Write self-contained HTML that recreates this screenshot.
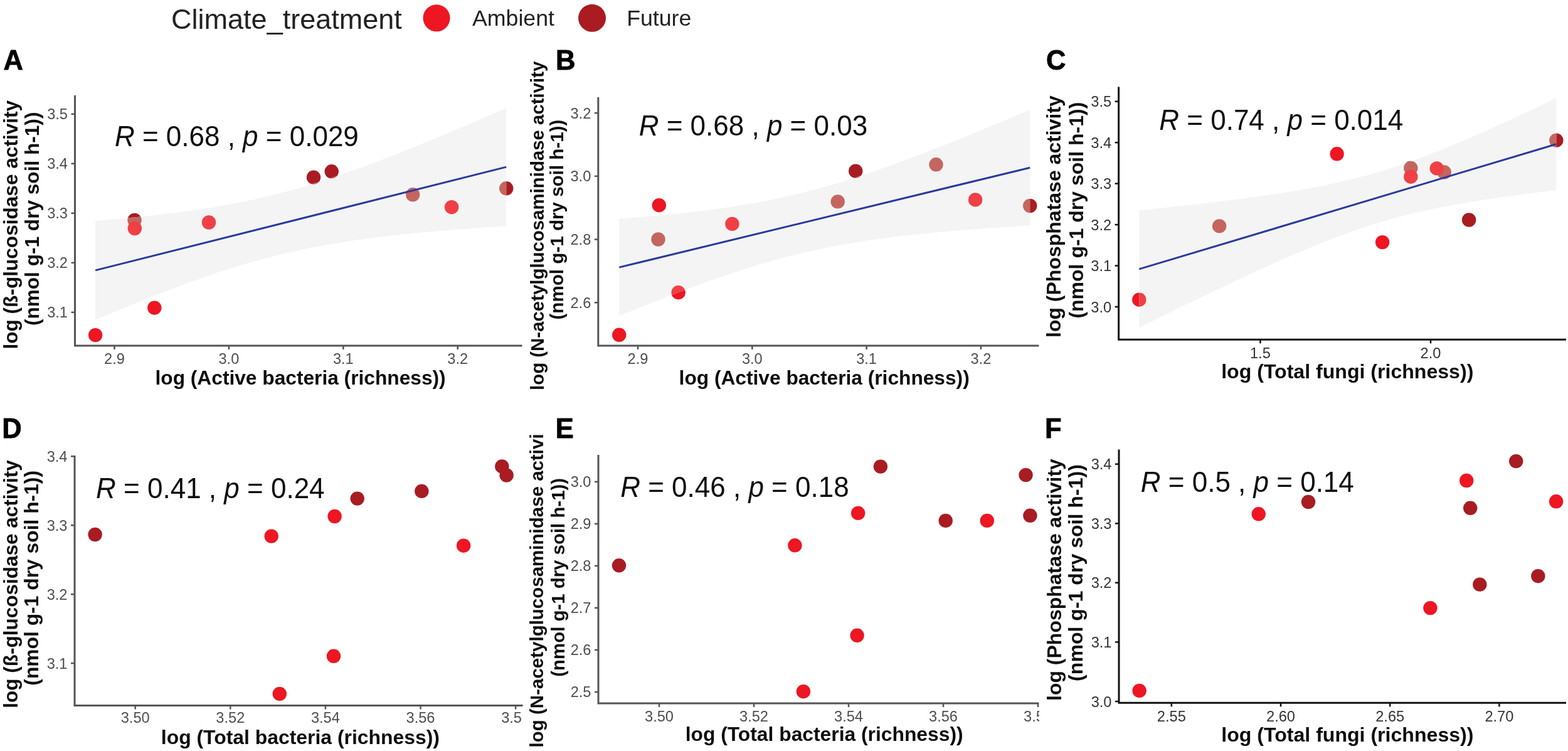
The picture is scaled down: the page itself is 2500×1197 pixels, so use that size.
<!DOCTYPE html><html><head><meta charset="utf-8"><title>Figure</title><style>html,body{margin:0;padding:0;background:#fff;}svg{display:block;filter:blur(0.5px);}text{font-family:"Liberation Sans",Arial,sans-serif;}.lab{font-weight:bold;font-size:43.5px;fill:#000;stroke:#000;stroke-width:0.8px;}.at{font-weight:bold;fill:#0d0d0d;}.tk{font-size:23.6px;}.rt{font-size:44px;fill:#0d0d0d;}.lg{fill:#222;}</style></head><body>
<svg width="2500" height="1197" viewBox="0 0 2500 1197">
<rect width="2500" height="1197" fill="#fff"/>
<text x="273.1" y="46.2" class="lg" style="font-size:45px">Climate_treatment</text>
<circle cx="696" cy="28.8" r="21.5" fill="#ed1622"/>
<text x="753.0" y="40.5" class="lg" style="font-size:35.7px">Ambient</text>
<circle cx="944" cy="28.8" r="22" fill="#a81c22"/>
<text x="999.2" y="40.5" class="lg" style="font-size:35.7px">Future</text>
<text x="5.4" y="110.5" class="lab">A</text>
<text transform="translate(28.0,556.6) rotate(-90)" class="at" style="font-size:31.6px">log (ß-glucosidase activity</text>
<text transform="translate(62.0,519.1) rotate(-90)" class="at" style="font-size:31.6px">(nmol g-1 dry soil h-1))</text>
<text x="247.5" y="613.4" class="at" style="font-size:31.7px">log (Active bacteria (richness))</text>
<defs><clipPath id="rb0"><path d="M152.1,351.9 L163.2,351.0 L174.3,350.1 L185.4,349.1 L196.5,348.1 L207.6,347.0 L218.7,345.9 L229.8,344.8 L240.9,343.6 L252.0,342.4 L263.1,341.1 L274.2,339.8 L285.3,338.4 L296.4,336.9 L307.5,335.3 L318.7,333.7 L329.8,332.0 L340.9,330.2 L352.0,328.3 L363.1,326.3 L374.2,324.3 L385.3,322.1 L396.4,319.8 L407.5,317.3 L418.6,314.8 L429.7,312.2 L440.8,309.4 L451.9,306.5 L463.0,303.5 L474.1,300.4 L485.2,297.1 L496.3,293.8 L507.4,290.3 L518.5,286.8 L529.6,283.1 L540.7,279.4 L551.8,275.5 L562.9,271.6 L574.0,267.6 L585.1,263.5 L596.2,259.4 L607.3,255.2 L618.4,250.9 L629.5,246.5 L640.6,242.2 L651.8,237.7 L662.9,233.2 L674.0,228.7 L685.1,224.2 L696.2,219.6 L707.3,214.9 L718.4,210.3 L729.5,205.6 L740.6,200.9 L751.7,196.1 L762.8,191.4 L773.9,186.6 L785.0,181.8 L796.1,176.9 L807.2,172.1 L807.2,360.2 L796.1,360.9 L785.0,361.7 L773.9,362.4 L762.8,363.2 L751.7,364.1 L740.6,364.9 L729.5,365.8 L718.4,366.7 L707.3,367.6 L696.2,368.5 L685.1,369.5 L674.0,370.5 L662.9,371.6 L651.8,372.7 L640.6,373.9 L629.5,375.1 L618.4,376.3 L607.3,377.6 L596.2,379.0 L585.1,380.4 L574.0,381.9 L562.9,383.5 L551.8,385.2 L540.7,386.9 L529.6,388.7 L518.5,390.7 L507.4,392.7 L496.3,394.8 L485.2,397.1 L474.1,399.4 L463.0,401.9 L451.9,404.4 L440.8,407.1 L429.7,410.0 L418.6,412.9 L407.5,415.9 L396.4,419.1 L385.3,422.4 L374.2,425.8 L363.1,429.3 L352.0,432.9 L340.9,436.6 L329.8,440.4 L318.7,444.3 L307.5,448.2 L296.4,452.2 L285.3,456.4 L274.2,460.5 L263.1,464.8 L252.0,469.1 L240.9,473.4 L229.8,477.8 L218.7,482.3 L207.6,486.8 L196.5,491.3 L185.4,495.9 L174.3,500.5 L163.2,505.1 L152.1,509.8 Z"/></clipPath></defs>
<circle cx="152.1" cy="534.1" r="11.2" fill="#ed1622"/>
<circle cx="214.5" cy="351" r="11.2" fill="#a81c22"/>
<circle cx="214.8" cy="364" r="11.2" fill="#ed1622"/>
<circle cx="246.3" cy="490.6" r="11.2" fill="#ed1622"/>
<circle cx="333" cy="354.5" r="11.2" fill="#ed1622"/>
<circle cx="500" cy="282.7" r="11.2" fill="#a81c22"/>
<circle cx="528.7" cy="273.3" r="11.2" fill="#a81c22"/>
<circle cx="658.2" cy="310.3" r="11.2" fill="#a81c22"/>
<circle cx="720.1" cy="330.2" r="11.2" fill="#ed1622"/>
<circle cx="807.2" cy="300.3" r="11.2" fill="#a81c22"/>
<path d="M152.1,351.9 L163.2,351.0 L174.3,350.1 L185.4,349.1 L196.5,348.1 L207.6,347.0 L218.7,345.9 L229.8,344.8 L240.9,343.6 L252.0,342.4 L263.1,341.1 L274.2,339.8 L285.3,338.4 L296.4,336.9 L307.5,335.3 L318.7,333.7 L329.8,332.0 L340.9,330.2 L352.0,328.3 L363.1,326.3 L374.2,324.3 L385.3,322.1 L396.4,319.8 L407.5,317.3 L418.6,314.8 L429.7,312.2 L440.8,309.4 L451.9,306.5 L463.0,303.5 L474.1,300.4 L485.2,297.1 L496.3,293.8 L507.4,290.3 L518.5,286.8 L529.6,283.1 L540.7,279.4 L551.8,275.5 L562.9,271.6 L574.0,267.6 L585.1,263.5 L596.2,259.4 L607.3,255.2 L618.4,250.9 L629.5,246.5 L640.6,242.2 L651.8,237.7 L662.9,233.2 L674.0,228.7 L685.1,224.2 L696.2,219.6 L707.3,214.9 L718.4,210.3 L729.5,205.6 L740.6,200.9 L751.7,196.1 L762.8,191.4 L773.9,186.6 L785.0,181.8 L796.1,176.9 L807.2,172.1 L807.2,360.2 L796.1,360.9 L785.0,361.7 L773.9,362.4 L762.8,363.2 L751.7,364.1 L740.6,364.9 L729.5,365.8 L718.4,366.7 L707.3,367.6 L696.2,368.5 L685.1,369.5 L674.0,370.5 L662.9,371.6 L651.8,372.7 L640.6,373.9 L629.5,375.1 L618.4,376.3 L607.3,377.6 L596.2,379.0 L585.1,380.4 L574.0,381.9 L562.9,383.5 L551.8,385.2 L540.7,386.9 L529.6,388.7 L518.5,390.7 L507.4,392.7 L496.3,394.8 L485.2,397.1 L474.1,399.4 L463.0,401.9 L451.9,404.4 L440.8,407.1 L429.7,410.0 L418.6,412.9 L407.5,415.9 L396.4,419.1 L385.3,422.4 L374.2,425.8 L363.1,429.3 L352.0,432.9 L340.9,436.6 L329.8,440.4 L318.7,444.3 L307.5,448.2 L296.4,452.2 L285.3,456.4 L274.2,460.5 L263.1,464.8 L252.0,469.1 L240.9,473.4 L229.8,477.8 L218.7,482.3 L207.6,486.8 L196.5,491.3 L185.4,495.9 L174.3,500.5 L163.2,505.1 L152.1,509.8 Z" fill="#f4f4f4"/>
<g clip-path="url(#rb0)">
<circle cx="152.1" cy="534.1" r="11.2" fill="#ef4046"/>
<circle cx="214.5" cy="351" r="11.2" fill="#c4665f"/>
<circle cx="214.8" cy="364" r="11.2" fill="#ef4046"/>
<circle cx="246.3" cy="490.6" r="11.2" fill="#ef4046"/>
<circle cx="333" cy="354.5" r="11.2" fill="#ef4046"/>
<circle cx="500" cy="282.7" r="11.2" fill="#c4665f"/>
<circle cx="528.7" cy="273.3" r="11.2" fill="#c4665f"/>
<circle cx="658.2" cy="310.3" r="11.2" fill="#c4665f"/>
<circle cx="720.1" cy="330.2" r="11.2" fill="#ef4046"/>
<circle cx="807.2" cy="300.3" r="11.2" fill="#c4665f"/>
</g>
<line x1="152.1" y1="430.9" x2="807.2" y2="266.1" stroke="#2a3a9e" stroke-width="3"/>
<text transform="translate(182.9,233) scale(1,1.05)" class="rt"><tspan font-style="italic">R</tspan> = 0.68 , <tspan font-style="italic">p</tspan> = 0.029</text>
<path d="M119.5,152 V551 H832.5" fill="none" stroke="#555" stroke-width="3"/>
<line x1="113.5" y1="497.8" x2="119.5" y2="497.8" stroke="#555" stroke-width="2.5"/>
<text x="108.0" y="506.3" text-anchor="end" class="tk" fill="#4d4d4d">3.1</text>
<line x1="113.5" y1="418.8" x2="119.5" y2="418.8" stroke="#555" stroke-width="2.5"/>
<text x="108.0" y="427.3" text-anchor="end" class="tk" fill="#4d4d4d">3.2</text>
<line x1="113.5" y1="339.8" x2="119.5" y2="339.8" stroke="#555" stroke-width="2.5"/>
<text x="108.0" y="348.3" text-anchor="end" class="tk" fill="#4d4d4d">3.3</text>
<line x1="113.5" y1="260.8" x2="119.5" y2="260.8" stroke="#555" stroke-width="2.5"/>
<text x="108.0" y="269.3" text-anchor="end" class="tk" fill="#4d4d4d">3.4</text>
<line x1="113.5" y1="181.8" x2="119.5" y2="181.8" stroke="#555" stroke-width="2.5"/>
<text x="108.0" y="190.3" text-anchor="end" class="tk" fill="#4d4d4d">3.5</text>
<line x1="182.5" y1="551" x2="182.5" y2="557" stroke="#555" stroke-width="2.5"/>
<text x="182.5" y="580.3" text-anchor="middle" class="tk" fill="#4d4d4d">2.9</text>
<line x1="364.9" y1="551" x2="364.9" y2="557" stroke="#555" stroke-width="2.5"/>
<text x="364.9" y="580.3" text-anchor="middle" class="tk" fill="#4d4d4d">3.0</text>
<line x1="547.3" y1="551" x2="547.3" y2="557" stroke="#555" stroke-width="2.5"/>
<text x="547.3" y="580.3" text-anchor="middle" class="tk" fill="#4d4d4d">3.1</text>
<line x1="729.7" y1="551" x2="729.7" y2="557" stroke="#555" stroke-width="2.5"/>
<text x="729.7" y="580.3" text-anchor="middle" class="tk" fill="#4d4d4d">3.2</text>
<text x="886.0" y="110.5" class="lab">B</text>
<text transform="translate(867.0,621.9) rotate(-90)" class="at" style="font-size:29.4px">log (N-acetylglucosaminidase activity</text>
<text transform="translate(897.5,509.5) rotate(-90)" class="at" style="font-size:29.6px">(nmol g-1 dry soil h-1))</text>
<text x="1082.6" y="612.8" class="at" style="font-size:31.7px">log (Active bacteria (richness))</text>
<defs><clipPath id="rb1"><path d="M987.2,348.6 L998.3,347.7 L1009.4,346.9 L1020.5,346.0 L1031.6,345.0 L1042.7,344.0 L1053.8,343.0 L1064.9,341.9 L1076.0,340.8 L1087.1,339.7 L1098.2,338.5 L1109.3,337.2 L1120.4,335.9 L1131.5,334.5 L1142.6,333.0 L1153.7,331.4 L1164.8,329.8 L1175.9,328.1 L1187.0,326.3 L1198.1,324.4 L1209.2,322.4 L1220.3,320.3 L1231.4,318.1 L1242.5,315.8 L1253.6,313.3 L1264.7,310.8 L1275.8,308.1 L1286.9,305.3 L1298.0,302.4 L1309.1,299.4 L1320.3,296.3 L1331.4,293.0 L1342.5,289.7 L1353.6,286.2 L1364.7,282.7 L1375.8,279.0 L1386.9,275.3 L1398.0,271.5 L1409.1,267.6 L1420.2,263.7 L1431.3,259.6 L1442.4,255.5 L1453.5,251.4 L1464.6,247.2 L1475.7,242.9 L1486.8,238.6 L1497.9,234.3 L1509.0,229.9 L1520.1,225.5 L1531.2,221.0 L1542.3,216.5 L1553.4,212.0 L1564.5,207.4 L1575.6,202.8 L1586.7,198.2 L1597.8,193.6 L1608.9,188.9 L1620.0,184.3 L1631.1,179.6 L1642.2,174.9 L1642.2,359.4 L1631.1,360.1 L1620.0,360.8 L1608.9,361.5 L1597.8,362.3 L1586.7,363.0 L1575.6,363.8 L1564.5,364.6 L1553.4,365.4 L1542.3,366.3 L1531.2,367.2 L1520.1,368.1 L1509.0,369.1 L1497.9,370.1 L1486.8,371.1 L1475.7,372.2 L1464.6,373.3 L1453.5,374.5 L1442.4,375.7 L1431.3,377.0 L1420.2,378.4 L1409.1,379.8 L1398.0,381.3 L1386.9,382.9 L1375.8,384.6 L1364.7,386.3 L1353.6,388.2 L1342.5,390.1 L1331.4,392.2 L1320.3,394.3 L1309.1,396.6 L1298.0,398.9 L1286.9,401.4 L1275.8,404.0 L1264.7,406.7 L1253.6,409.6 L1242.5,412.5 L1231.4,415.6 L1220.3,418.8 L1209.2,422.0 L1198.1,425.4 L1187.0,428.9 L1175.9,432.5 L1164.8,436.2 L1153.7,439.9 L1142.6,443.8 L1131.5,447.7 L1120.4,451.7 L1109.3,455.7 L1098.2,459.9 L1087.1,464.0 L1076.0,468.3 L1064.9,472.5 L1053.8,476.9 L1042.7,481.2 L1031.6,485.6 L1020.5,490.1 L1009.4,494.6 L998.3,499.1 L987.2,503.6 Z"/></clipPath></defs>
<circle cx="987.2" cy="533.8" r="11.2" fill="#ed1622"/>
<circle cx="1050.8" cy="327.2" r="11.2" fill="#ed1622"/>
<circle cx="1049.5" cy="381.5" r="11.2" fill="#a81c22"/>
<circle cx="1081.6" cy="466.2" r="11.2" fill="#ed1622"/>
<circle cx="1167.4" cy="356.9" r="11.2" fill="#ed1622"/>
<circle cx="1335.7" cy="321.4" r="11.2" fill="#a81c22"/>
<circle cx="1364.2" cy="272.7" r="11.2" fill="#a81c22"/>
<circle cx="1492.5" cy="262.3" r="11.2" fill="#a81c22"/>
<circle cx="1555.1" cy="318.4" r="11.2" fill="#ed1622"/>
<circle cx="1642.2" cy="328" r="11.2" fill="#a81c22"/>
<path d="M987.2,348.6 L998.3,347.7 L1009.4,346.9 L1020.5,346.0 L1031.6,345.0 L1042.7,344.0 L1053.8,343.0 L1064.9,341.9 L1076.0,340.8 L1087.1,339.7 L1098.2,338.5 L1109.3,337.2 L1120.4,335.9 L1131.5,334.5 L1142.6,333.0 L1153.7,331.4 L1164.8,329.8 L1175.9,328.1 L1187.0,326.3 L1198.1,324.4 L1209.2,322.4 L1220.3,320.3 L1231.4,318.1 L1242.5,315.8 L1253.6,313.3 L1264.7,310.8 L1275.8,308.1 L1286.9,305.3 L1298.0,302.4 L1309.1,299.4 L1320.3,296.3 L1331.4,293.0 L1342.5,289.7 L1353.6,286.2 L1364.7,282.7 L1375.8,279.0 L1386.9,275.3 L1398.0,271.5 L1409.1,267.6 L1420.2,263.7 L1431.3,259.6 L1442.4,255.5 L1453.5,251.4 L1464.6,247.2 L1475.7,242.9 L1486.8,238.6 L1497.9,234.3 L1509.0,229.9 L1520.1,225.5 L1531.2,221.0 L1542.3,216.5 L1553.4,212.0 L1564.5,207.4 L1575.6,202.8 L1586.7,198.2 L1597.8,193.6 L1608.9,188.9 L1620.0,184.3 L1631.1,179.6 L1642.2,174.9 L1642.2,359.4 L1631.1,360.1 L1620.0,360.8 L1608.9,361.5 L1597.8,362.3 L1586.7,363.0 L1575.6,363.8 L1564.5,364.6 L1553.4,365.4 L1542.3,366.3 L1531.2,367.2 L1520.1,368.1 L1509.0,369.1 L1497.9,370.1 L1486.8,371.1 L1475.7,372.2 L1464.6,373.3 L1453.5,374.5 L1442.4,375.7 L1431.3,377.0 L1420.2,378.4 L1409.1,379.8 L1398.0,381.3 L1386.9,382.9 L1375.8,384.6 L1364.7,386.3 L1353.6,388.2 L1342.5,390.1 L1331.4,392.2 L1320.3,394.3 L1309.1,396.6 L1298.0,398.9 L1286.9,401.4 L1275.8,404.0 L1264.7,406.7 L1253.6,409.6 L1242.5,412.5 L1231.4,415.6 L1220.3,418.8 L1209.2,422.0 L1198.1,425.4 L1187.0,428.9 L1175.9,432.5 L1164.8,436.2 L1153.7,439.9 L1142.6,443.8 L1131.5,447.7 L1120.4,451.7 L1109.3,455.7 L1098.2,459.9 L1087.1,464.0 L1076.0,468.3 L1064.9,472.5 L1053.8,476.9 L1042.7,481.2 L1031.6,485.6 L1020.5,490.1 L1009.4,494.6 L998.3,499.1 L987.2,503.6 Z" fill="#f4f4f4"/>
<g clip-path="url(#rb1)">
<circle cx="987.2" cy="533.8" r="11.2" fill="#ef4046"/>
<circle cx="1050.8" cy="327.2" r="11.2" fill="#ef4046"/>
<circle cx="1049.5" cy="381.5" r="11.2" fill="#c4665f"/>
<circle cx="1081.6" cy="466.2" r="11.2" fill="#ef4046"/>
<circle cx="1167.4" cy="356.9" r="11.2" fill="#ef4046"/>
<circle cx="1335.7" cy="321.4" r="11.2" fill="#c4665f"/>
<circle cx="1364.2" cy="272.7" r="11.2" fill="#c4665f"/>
<circle cx="1492.5" cy="262.3" r="11.2" fill="#c4665f"/>
<circle cx="1555.1" cy="318.4" r="11.2" fill="#ef4046"/>
<circle cx="1642.2" cy="328" r="11.2" fill="#c4665f"/>
</g>
<line x1="987.2" y1="426.1" x2="1642.2" y2="267.2" stroke="#2a3a9e" stroke-width="3"/>
<text transform="translate(1018.7,216.3) scale(1,1.05)" class="rt"><tspan font-style="italic">R</tspan> = 0.68 , <tspan font-style="italic">p</tspan> = 0.03</text>
<path d="M953.8,155 V551 H1656.4" fill="none" stroke="#555" stroke-width="3"/>
<line x1="947.8" y1="482.3" x2="953.8" y2="482.3" stroke="#555" stroke-width="2.5"/>
<text x="942.3" y="490.8" text-anchor="end" class="tk" fill="#4d4d4d">2.6</text>
<line x1="947.8" y1="381.6" x2="953.8" y2="381.6" stroke="#555" stroke-width="2.5"/>
<text x="942.3" y="390.1" text-anchor="end" class="tk" fill="#4d4d4d">2.8</text>
<line x1="947.8" y1="280.8" x2="953.8" y2="280.8" stroke="#555" stroke-width="2.5"/>
<text x="942.3" y="289.3" text-anchor="end" class="tk" fill="#4d4d4d">3.0</text>
<line x1="947.8" y1="180.1" x2="953.8" y2="180.1" stroke="#555" stroke-width="2.5"/>
<text x="942.3" y="188.6" text-anchor="end" class="tk" fill="#4d4d4d">3.2</text>
<line x1="1017.0" y1="551" x2="1017.0" y2="557" stroke="#555" stroke-width="2.5"/>
<text x="1017.0" y="580.3" text-anchor="middle" class="tk" fill="#4d4d4d">2.9</text>
<line x1="1199.3" y1="551" x2="1199.3" y2="557" stroke="#555" stroke-width="2.5"/>
<text x="1199.3" y="580.3" text-anchor="middle" class="tk" fill="#4d4d4d">3.0</text>
<line x1="1381.6" y1="551" x2="1381.6" y2="557" stroke="#555" stroke-width="2.5"/>
<text x="1381.6" y="580.3" text-anchor="middle" class="tk" fill="#4d4d4d">3.1</text>
<line x1="1563.9" y1="551" x2="1563.9" y2="557" stroke="#555" stroke-width="2.5"/>
<text x="1563.9" y="580.3" text-anchor="middle" class="tk" fill="#4d4d4d">3.2</text>
<text x="1667.9" y="110.5" class="lab">C</text>
<text transform="translate(1691.3,538.0) rotate(-90)" class="at" style="font-size:32.0px">log (Phosphatase activity</text>
<text transform="translate(1726.5,507.6) rotate(-90)" class="at" style="font-size:32.0px">(nmol g-1 dry soil h-1))</text>
<text x="1947.2" y="602.6" class="at" style="font-size:32.1px">log (Total fungi (richness))</text>
<defs><clipPath id="rb2"><path d="M1816.3,335.3 L1827.6,334.2 L1838.8,333.0 L1850.1,331.8 L1861.4,330.6 L1872.7,329.4 L1883.9,328.2 L1895.2,326.9 L1906.5,325.7 L1917.7,324.4 L1929.0,323.1 L1940.3,321.7 L1951.6,320.3 L1962.8,318.9 L1974.1,317.5 L1985.4,316.0 L1996.6,314.5 L2007.9,312.9 L2019.2,311.3 L2030.5,309.6 L2041.7,307.9 L2053.0,306.1 L2064.3,304.3 L2075.5,302.3 L2086.8,300.3 L2098.1,298.2 L2109.4,295.9 L2120.6,293.6 L2131.9,291.2 L2143.2,288.6 L2154.4,285.9 L2165.7,283.0 L2177.0,280.1 L2188.2,276.9 L2199.5,273.7 L2210.8,270.2 L2222.1,266.6 L2233.3,262.9 L2244.6,259.0 L2255.9,255.0 L2267.1,250.9 L2278.4,246.6 L2289.7,242.2 L2301.0,237.7 L2312.2,233.1 L2323.5,228.4 L2334.8,223.6 L2346.0,218.8 L2357.3,213.8 L2368.6,208.8 L2379.9,203.8 L2391.1,198.6 L2402.4,193.5 L2413.7,188.3 L2424.9,183.0 L2436.2,177.7 L2447.5,172.4 L2458.8,167.0 L2470.0,161.6 L2481.3,156.2 L2481.3,303.2 L2470.0,304.6 L2458.8,305.9 L2447.5,307.3 L2436.2,308.7 L2424.9,310.2 L2413.7,311.7 L2402.4,313.2 L2391.1,314.8 L2379.9,316.4 L2368.6,318.1 L2357.3,319.8 L2346.0,321.7 L2334.8,323.5 L2323.5,325.5 L2312.2,327.6 L2301.0,329.7 L2289.7,332.0 L2278.4,334.3 L2267.1,336.8 L2255.9,339.4 L2244.6,342.2 L2233.3,345.0 L2222.1,348.1 L2210.8,351.2 L2199.5,354.6 L2188.2,358.0 L2177.0,361.7 L2165.7,365.4 L2154.4,369.3 L2143.2,373.4 L2131.9,377.6 L2120.6,381.9 L2109.4,386.3 L2098.1,390.8 L2086.8,395.5 L2075.5,400.2 L2064.3,405.0 L2053.0,409.9 L2041.7,414.8 L2030.5,419.9 L2019.2,425.0 L2007.9,430.1 L1996.6,435.3 L1985.4,440.5 L1974.1,445.8 L1962.8,451.1 L1951.6,456.4 L1940.3,461.8 L1929.0,467.2 L1917.7,472.7 L1906.5,478.1 L1895.2,483.6 L1883.9,489.1 L1872.7,494.6 L1861.4,500.2 L1850.1,505.7 L1838.8,511.3 L1827.6,516.9 L1816.3,522.5 Z"/></clipPath></defs>
<circle cx="1816.3" cy="477.7" r="11.2" fill="#ed1622"/>
<circle cx="1944.1" cy="360.4" r="11.2" fill="#a81c22"/>
<circle cx="2131.6" cy="245.3" r="11.2" fill="#ed1622"/>
<circle cx="2204.1" cy="386.1" r="11.2" fill="#ed1622"/>
<circle cx="2342.1" cy="350.5" r="11.2" fill="#a81c22"/>
<circle cx="2249.3" cy="267.9" r="11.2" fill="#a81c22"/>
<circle cx="2249.3" cy="281.7" r="11.2" fill="#ed1622"/>
<circle cx="2302.7" cy="274.5" r="11.2" fill="#a81c22"/>
<circle cx="2290.8" cy="268.4" r="11.2" fill="#ed1622"/>
<circle cx="2481.3" cy="223.7" r="11.2" fill="#a81c22"/>
<path d="M1816.3,335.3 L1827.6,334.2 L1838.8,333.0 L1850.1,331.8 L1861.4,330.6 L1872.7,329.4 L1883.9,328.2 L1895.2,326.9 L1906.5,325.7 L1917.7,324.4 L1929.0,323.1 L1940.3,321.7 L1951.6,320.3 L1962.8,318.9 L1974.1,317.5 L1985.4,316.0 L1996.6,314.5 L2007.9,312.9 L2019.2,311.3 L2030.5,309.6 L2041.7,307.9 L2053.0,306.1 L2064.3,304.3 L2075.5,302.3 L2086.8,300.3 L2098.1,298.2 L2109.4,295.9 L2120.6,293.6 L2131.9,291.2 L2143.2,288.6 L2154.4,285.9 L2165.7,283.0 L2177.0,280.1 L2188.2,276.9 L2199.5,273.7 L2210.8,270.2 L2222.1,266.6 L2233.3,262.9 L2244.6,259.0 L2255.9,255.0 L2267.1,250.9 L2278.4,246.6 L2289.7,242.2 L2301.0,237.7 L2312.2,233.1 L2323.5,228.4 L2334.8,223.6 L2346.0,218.8 L2357.3,213.8 L2368.6,208.8 L2379.9,203.8 L2391.1,198.6 L2402.4,193.5 L2413.7,188.3 L2424.9,183.0 L2436.2,177.7 L2447.5,172.4 L2458.8,167.0 L2470.0,161.6 L2481.3,156.2 L2481.3,303.2 L2470.0,304.6 L2458.8,305.9 L2447.5,307.3 L2436.2,308.7 L2424.9,310.2 L2413.7,311.7 L2402.4,313.2 L2391.1,314.8 L2379.9,316.4 L2368.6,318.1 L2357.3,319.8 L2346.0,321.7 L2334.8,323.5 L2323.5,325.5 L2312.2,327.6 L2301.0,329.7 L2289.7,332.0 L2278.4,334.3 L2267.1,336.8 L2255.9,339.4 L2244.6,342.2 L2233.3,345.0 L2222.1,348.1 L2210.8,351.2 L2199.5,354.6 L2188.2,358.0 L2177.0,361.7 L2165.7,365.4 L2154.4,369.3 L2143.2,373.4 L2131.9,377.6 L2120.6,381.9 L2109.4,386.3 L2098.1,390.8 L2086.8,395.5 L2075.5,400.2 L2064.3,405.0 L2053.0,409.9 L2041.7,414.8 L2030.5,419.9 L2019.2,425.0 L2007.9,430.1 L1996.6,435.3 L1985.4,440.5 L1974.1,445.8 L1962.8,451.1 L1951.6,456.4 L1940.3,461.8 L1929.0,467.2 L1917.7,472.7 L1906.5,478.1 L1895.2,483.6 L1883.9,489.1 L1872.7,494.6 L1861.4,500.2 L1850.1,505.7 L1838.8,511.3 L1827.6,516.9 L1816.3,522.5 Z" fill="#f4f4f4"/>
<g clip-path="url(#rb2)">
<circle cx="1816.3" cy="477.7" r="11.2" fill="#ef4046"/>
<circle cx="1944.1" cy="360.4" r="11.2" fill="#c4665f"/>
<circle cx="2131.6" cy="245.3" r="11.2" fill="#ef4046"/>
<circle cx="2204.1" cy="386.1" r="11.2" fill="#ef4046"/>
<circle cx="2342.1" cy="350.5" r="11.2" fill="#c4665f"/>
<circle cx="2249.3" cy="267.9" r="11.2" fill="#c4665f"/>
<circle cx="2249.3" cy="281.7" r="11.2" fill="#ef4046"/>
<circle cx="2302.7" cy="274.5" r="11.2" fill="#c4665f"/>
<circle cx="2290.8" cy="268.4" r="11.2" fill="#ef4046"/>
<circle cx="2481.3" cy="223.7" r="11.2" fill="#c4665f"/>
</g>
<line x1="1816.3" y1="428.9" x2="2481.3" y2="229.7" stroke="#2a3a9e" stroke-width="3"/>
<text transform="translate(1848.3,206.8) scale(1,1.05)" class="rt"><tspan font-style="italic">R</tspan> = 0.74 , <tspan font-style="italic">p</tspan> = 0.014</text>
<path d="M1783.6,138.4 V541.3 H2497" fill="none" stroke="#111" stroke-width="3"/>
<line x1="1777.6" y1="489.0" x2="1783.6" y2="489.0" stroke="#111" stroke-width="2.5"/>
<text x="1772.1" y="497.5" text-anchor="end" class="tk" fill="#333">3.0</text>
<line x1="1777.6" y1="423.5" x2="1783.6" y2="423.5" stroke="#111" stroke-width="2.5"/>
<text x="1772.1" y="432.0" text-anchor="end" class="tk" fill="#333">3.1</text>
<line x1="1777.6" y1="358.1" x2="1783.6" y2="358.1" stroke="#111" stroke-width="2.5"/>
<text x="1772.1" y="366.6" text-anchor="end" class="tk" fill="#333">3.2</text>
<line x1="1777.6" y1="292.6" x2="1783.6" y2="292.6" stroke="#111" stroke-width="2.5"/>
<text x="1772.1" y="301.1" text-anchor="end" class="tk" fill="#333">3.3</text>
<line x1="1777.6" y1="227.2" x2="1783.6" y2="227.2" stroke="#111" stroke-width="2.5"/>
<text x="1772.1" y="235.7" text-anchor="end" class="tk" fill="#333">3.4</text>
<line x1="1777.6" y1="161.7" x2="1783.6" y2="161.7" stroke="#111" stroke-width="2.5"/>
<text x="1772.1" y="170.2" text-anchor="end" class="tk" fill="#333">3.5</text>
<line x1="2009.4" y1="541.3" x2="2009.4" y2="547.3" stroke="#111" stroke-width="2.5"/>
<text x="2009.4" y="570.6" text-anchor="middle" class="tk" fill="#333">1.5</text>
<line x1="2281.0" y1="541.3" x2="2281.0" y2="547.3" stroke="#111" stroke-width="2.5"/>
<text x="2281.0" y="570.6" text-anchor="middle" class="tk" fill="#333">2.0</text>
<text x="3.2" y="698" class="lab">D</text>
<text transform="translate(27.8,1128.7) rotate(-90)" class="at" style="font-size:31.5px">log (ß-glucosidase activity</text>
<text transform="translate(61.4,1092.7) rotate(-90)" class="at" style="font-size:31.8px">(nmol g-1 dry soil h-1))</text>
<text x="256.8" y="1185.8" class="at" style="font-size:31.9px">log (Total bacteria (richness))</text>
<circle cx="151.6" cy="852" r="11.2" fill="#a81c22"/>
<circle cx="432.7" cy="854.6" r="11.2" fill="#ed1622"/>
<circle cx="533.6" cy="823" r="11.2" fill="#ed1622"/>
<circle cx="569.7" cy="794.6" r="11.2" fill="#a81c22"/>
<circle cx="672.3" cy="782.9" r="11.2" fill="#a81c22"/>
<circle cx="739.1" cy="869.7" r="11.2" fill="#ed1622"/>
<circle cx="800.3" cy="743.4" r="11.2" fill="#a81c22"/>
<circle cx="807.6" cy="757.5" r="11.2" fill="#a81c22"/>
<circle cx="532" cy="1045.8" r="11.2" fill="#ed1622"/>
<circle cx="445.8" cy="1105.9" r="11.2" fill="#ed1622"/>
<text transform="translate(153.1,794.4) scale(1,1.05)" class="rt"><tspan font-style="italic">R</tspan> = 0.41 , <tspan font-style="italic">p</tspan> = 0.24</text>
<path d="M119,726 V1124.5 H833.5" fill="none" stroke="#555" stroke-width="3"/>
<line x1="113" y1="1057.1" x2="119" y2="1057.1" stroke="#555" stroke-width="2.5"/>
<text x="107.5" y="1065.6" text-anchor="end" class="tk" fill="#4d4d4d">3.1</text>
<line x1="113" y1="947.2" x2="119" y2="947.2" stroke="#555" stroke-width="2.5"/>
<text x="107.5" y="955.7" text-anchor="end" class="tk" fill="#4d4d4d">3.2</text>
<line x1="113" y1="837.2" x2="119" y2="837.2" stroke="#555" stroke-width="2.5"/>
<text x="107.5" y="845.7" text-anchor="end" class="tk" fill="#4d4d4d">3.3</text>
<line x1="113" y1="727.3" x2="119" y2="727.3" stroke="#555" stroke-width="2.5"/>
<text x="107.5" y="735.8" text-anchor="end" class="tk" fill="#4d4d4d">3.4</text>
<defs><clipPath id="xc3"><rect x="0" y="0" width="832.2" height="1197"/></clipPath></defs><g clip-path="url(#xc3)">
<line x1="215.7" y1="1124.5" x2="215.7" y2="1130.5" stroke="#555" stroke-width="2.5"/>
<text x="215.7" y="1151.8" text-anchor="middle" class="tk" fill="#4d4d4d">3.50</text>
<line x1="367.3" y1="1124.5" x2="367.3" y2="1130.5" stroke="#555" stroke-width="2.5"/>
<text x="367.3" y="1151.8" text-anchor="middle" class="tk" fill="#4d4d4d">3.52</text>
<line x1="518.9" y1="1124.5" x2="518.9" y2="1130.5" stroke="#555" stroke-width="2.5"/>
<text x="518.9" y="1151.8" text-anchor="middle" class="tk" fill="#4d4d4d">3.54</text>
<line x1="670.5" y1="1124.5" x2="670.5" y2="1130.5" stroke="#555" stroke-width="2.5"/>
<text x="670.5" y="1151.8" text-anchor="middle" class="tk" fill="#4d4d4d">3.56</text>
<line x1="822.1" y1="1124.5" x2="822.1" y2="1130.5" stroke="#555" stroke-width="2.5"/>
<text x="822.1" y="1151.8" text-anchor="middle" class="tk" fill="#4d4d4d">3.58</text>
</g>
<text x="885.8" y="698" class="lab">E</text>
<text transform="translate(866.0,1191.4) rotate(-90)" class="at" style="font-size:29.5px">log (N-acetylglucosaminidase activi</text>
<text transform="translate(899.5,1078.7) rotate(-90)" class="at" style="font-size:29.4px">(nmol g-1 dry soil h-1))</text>
<text x="1092.7" y="1181.4" class="at" style="font-size:31.8px">log (Total bacteria (richness))</text>
<circle cx="987" cy="901.3" r="11.2" fill="#a81c22"/>
<circle cx="1267.4" cy="869.3" r="11.2" fill="#ed1622"/>
<circle cx="1280.9" cy="1102.2" r="11.2" fill="#ed1622"/>
<circle cx="1403.9" cy="743.6" r="11.2" fill="#a81c22"/>
<circle cx="1368.1" cy="817.9" r="11.2" fill="#ed1622"/>
<circle cx="1507.7" cy="829.9" r="11.2" fill="#a81c22"/>
<circle cx="1573.8" cy="829.9" r="11.2" fill="#ed1622"/>
<circle cx="1635.5" cy="757.1" r="11.2" fill="#a81c22"/>
<circle cx="1642.4" cy="821.8" r="11.2" fill="#a81c22"/>
<circle cx="1366.6" cy="1012.8" r="11.2" fill="#ed1622"/>
<text transform="translate(989.2,792.3) scale(1,1.05)" class="rt"><tspan font-style="italic">R</tspan> = 0.46 , <tspan font-style="italic">p</tspan> = 0.18</text>
<path d="M954,725 V1121 H1656.4" fill="none" stroke="#555" stroke-width="3"/>
<line x1="948" y1="1102.9" x2="954" y2="1102.9" stroke="#555" stroke-width="2.5"/>
<text x="942.5" y="1111.4" text-anchor="end" class="tk" fill="#4d4d4d">2.5</text>
<line x1="948" y1="1035.9" x2="954" y2="1035.9" stroke="#555" stroke-width="2.5"/>
<text x="942.5" y="1044.4" text-anchor="end" class="tk" fill="#4d4d4d">2.6</text>
<line x1="948" y1="968.9" x2="954" y2="968.9" stroke="#555" stroke-width="2.5"/>
<text x="942.5" y="977.4" text-anchor="end" class="tk" fill="#4d4d4d">2.7</text>
<line x1="948" y1="901.9" x2="954" y2="901.9" stroke="#555" stroke-width="2.5"/>
<text x="942.5" y="910.4" text-anchor="end" class="tk" fill="#4d4d4d">2.8</text>
<line x1="948" y1="834.9" x2="954" y2="834.9" stroke="#555" stroke-width="2.5"/>
<text x="942.5" y="843.4" text-anchor="end" class="tk" fill="#4d4d4d">2.9</text>
<line x1="948" y1="767.9" x2="954" y2="767.9" stroke="#555" stroke-width="2.5"/>
<text x="942.5" y="776.4" text-anchor="end" class="tk" fill="#4d4d4d">3.0</text>
<defs><clipPath id="xc4"><rect x="0" y="0" width="1657" height="1197"/></clipPath></defs><g clip-path="url(#xc4)">
<line x1="1051.0" y1="1121" x2="1051.0" y2="1127" stroke="#555" stroke-width="2.5"/>
<text x="1051.0" y="1150.3" text-anchor="middle" class="tk" fill="#4d4d4d">3.50</text>
<line x1="1202.0" y1="1121" x2="1202.0" y2="1127" stroke="#555" stroke-width="2.5"/>
<text x="1202.0" y="1150.3" text-anchor="middle" class="tk" fill="#4d4d4d">3.52</text>
<line x1="1353.0" y1="1121" x2="1353.0" y2="1127" stroke="#555" stroke-width="2.5"/>
<text x="1353.0" y="1150.3" text-anchor="middle" class="tk" fill="#4d4d4d">3.54</text>
<line x1="1504.0" y1="1121" x2="1504.0" y2="1127" stroke="#555" stroke-width="2.5"/>
<text x="1504.0" y="1150.3" text-anchor="middle" class="tk" fill="#4d4d4d">3.56</text>
<line x1="1655.0" y1="1121" x2="1655.0" y2="1127" stroke="#555" stroke-width="2.5"/>
<text x="1655.0" y="1150.3" text-anchor="middle" class="tk" fill="#4d4d4d">3.58</text>
</g>
<text x="1665.9" y="698" class="lab">F</text>
<text transform="translate(1692.4,1117.0) rotate(-90)" class="at" style="font-size:32.0px">log (Phosphatase activity</text>
<text transform="translate(1726.0,1085.9) rotate(-90)" class="at" style="font-size:32.1px">(nmol g-1 dry soil h-1))</text>
<text x="1947.3" y="1181.8" class="at" style="font-size:32.1px">log (Total fungi (richness))</text>
<circle cx="1816.6" cy="1100.9" r="11.2" fill="#ed1622"/>
<circle cx="2006.7" cy="819.3" r="11.2" fill="#ed1622"/>
<circle cx="2086" cy="800" r="11.2" fill="#a81c22"/>
<circle cx="2417.2" cy="735.1" r="11.2" fill="#a81c22"/>
<circle cx="2338.2" cy="766" r="11.2" fill="#ed1622"/>
<circle cx="2344.2" cy="809.8" r="11.2" fill="#a81c22"/>
<circle cx="2481.1" cy="799.3" r="11.2" fill="#ed1622"/>
<circle cx="2452.3" cy="918.2" r="11.2" fill="#a81c22"/>
<circle cx="2359.3" cy="931.6" r="11.2" fill="#a81c22"/>
<circle cx="2280.4" cy="969.1" r="11.2" fill="#ed1622"/>
<text transform="translate(1818.8,784.2) scale(1,1.05)" class="rt"><tspan font-style="italic">R</tspan> = 0.5 , <tspan font-style="italic">p</tspan> = 0.14</text>
<path d="M1784,716.4 V1120.3 H2497" fill="none" stroke="#111" stroke-width="3"/>
<line x1="1778" y1="1118.0" x2="1784" y2="1118.0" stroke="#111" stroke-width="2.5"/>
<text x="1772.5" y="1126.5" text-anchor="end" class="tk" fill="#333">3.0</text>
<line x1="1778" y1="1023.4" x2="1784" y2="1023.4" stroke="#111" stroke-width="2.5"/>
<text x="1772.5" y="1031.9" text-anchor="end" class="tk" fill="#333">3.1</text>
<line x1="1778" y1="928.8" x2="1784" y2="928.8" stroke="#111" stroke-width="2.5"/>
<text x="1772.5" y="937.3" text-anchor="end" class="tk" fill="#333">3.2</text>
<line x1="1778" y1="834.3" x2="1784" y2="834.3" stroke="#111" stroke-width="2.5"/>
<text x="1772.5" y="842.8" text-anchor="end" class="tk" fill="#333">3.3</text>
<line x1="1778" y1="739.7" x2="1784" y2="739.7" stroke="#111" stroke-width="2.5"/>
<text x="1772.5" y="748.2" text-anchor="end" class="tk" fill="#333">3.4</text>
<line x1="1867.8" y1="1120.3" x2="1867.8" y2="1126.3" stroke="#111" stroke-width="2.5"/>
<text x="1867.8" y="1149.6" text-anchor="middle" class="tk" fill="#333">2.55</text>
<line x1="2042.0" y1="1120.3" x2="2042.0" y2="1126.3" stroke="#111" stroke-width="2.5"/>
<text x="2042.0" y="1149.6" text-anchor="middle" class="tk" fill="#333">2.60</text>
<line x1="2216.2" y1="1120.3" x2="2216.2" y2="1126.3" stroke="#111" stroke-width="2.5"/>
<text x="2216.2" y="1149.6" text-anchor="middle" class="tk" fill="#333">2.65</text>
<line x1="2390.4" y1="1120.3" x2="2390.4" y2="1126.3" stroke="#111" stroke-width="2.5"/>
<text x="2390.4" y="1149.6" text-anchor="middle" class="tk" fill="#333">2.70</text>
</svg></body></html>
